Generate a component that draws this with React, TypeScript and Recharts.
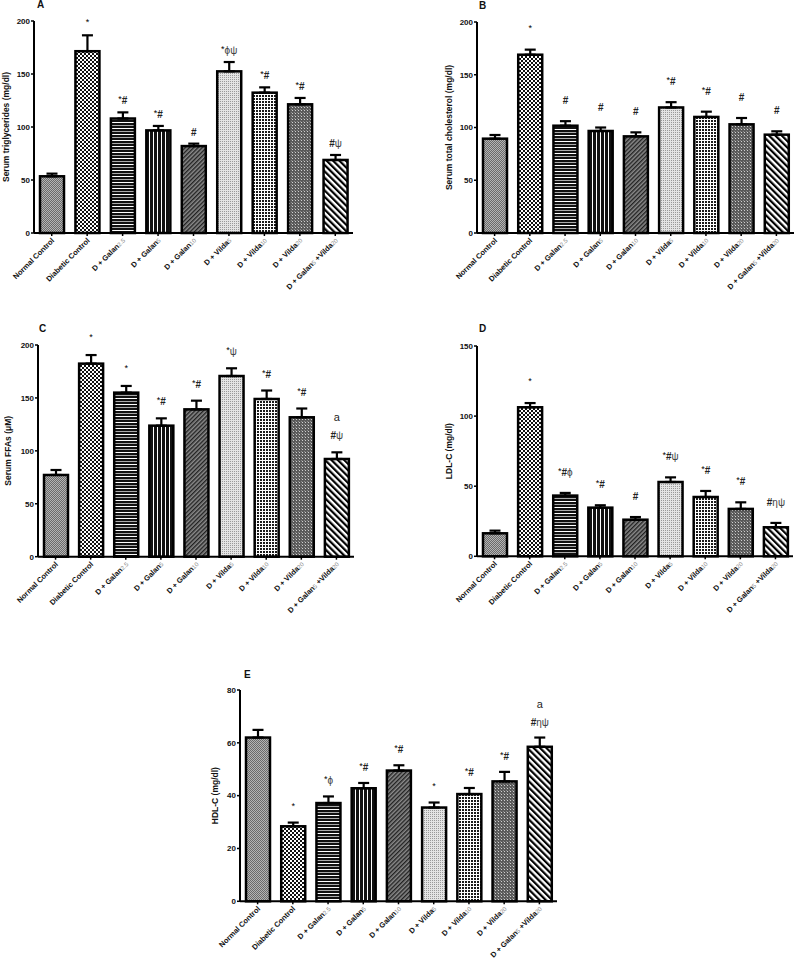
import React from 'react';
import { BarChart, Bar, XAxis, YAxis, ErrorBar, Cell } from 'recharts';

const FONT = '"Liberation Sans", Arial, Helvetica, sans-serif';

// Category tick labels (_{..} marks a subscript)
const categoryLabels = [
  'Normal Control',
  'Diabetic Control',
  'D + Galan_{2.5}',
  'D + Galan_{5}',
  'D + Galan_{10}',
  'D + Vilda_{5}',
  'D + Vilda_{10}',
  'D + Vilda_{20}',
  'D + Galan_{5} +Vilda_{20}',
];

// A: Serum triglycerides (mg/dl)
const trigMean = [53.5, 171.5, 108, 96.8, 82, 152.5, 132.4, 121.4, 68.9];
const trigSem = [2.5, 15, 5.8, 4.2, 2.3, 8.8, 5, 6, 4.7];
const trigSig = ['', '*', '*#', '*#', '#', '*ϕψ', '*#', '*#', '#ψ'];

// B: Serum total cholesterol (mg/dl)
const cholMean = [89.4, 169, 101.7, 96.7, 91.6, 119, 110, 103, 93.2];
const cholSem = [3.5, 4.8, 4.3, 3.3, 3.8, 5, 5, 6, 3.2];
const cholSig = ['', '*', '#', '#', '#', '*#', '*#', '#', '#'];

// C: Serum FFAs (µM)
const ffaMean = [77.2, 182.4, 155, 123.8, 139.2, 170.7, 149, 131.7, 92.3];
const ffaSem = [4.7, 8.1, 6.3, 6.9, 8.2, 7.3, 8, 8.3, 6.3];
const ffaSig = ['', '*', '*', '*#', '*#', '*ψ', '*#', '*#', 'a\n#ψ'];

// D: LDL-C (mg/dl)
const ldlMean = [16.4, 106.3, 43.3, 34.7, 26.1, 53, 42.3, 33.8, 20.7];
const ldlSem = [1.9, 3, 1.9, 1.7, 1.9, 3.3, 4.3, 4.7, 3.1];
const ldlSig = ['', '*', '*#ϕ', '*#', '#', '*#ψ', '*#', '*#', '#ηψ'];

// E: HDL-C (mg/dl)
const hdlMean = [62, 28.4, 37.2, 42.8, 49.5, 35.5, 40.6, 45.4, 58.5];
const hdlSem = [2.9, 1.4, 2.5, 2, 2, 1.9, 2.3, 3.6, 3.5];
const hdlSig = ['', '*', '*ϕ', '*#', '*#', '*', '*#', '*#', 'a\n#ηψ'];

const ticks200 = [0, 50, 100, 150, 200];
const ticks150 = [0, 50, 100, 150];
const ticks80 = [0, 20, 40, 60, 80];

function parseLabel(s: string) {
  const parts: { t: string; sub: boolean }[] = [];
  const re = /_\{([^}]*)\}/g;
  let last = 0;
  let m;
  while ((m = re.exec(s)) !== null) {
    if (m.index > last) parts.push({ t: s.slice(last, m.index), sub: false });
    parts.push({ t: m[1], sub: true });
    last = m.index + m[0].length;
  }
  if (last < s.length) parts.push({ t: s.slice(last), sub: false });
  return parts;
}

const CatTick = (props: any) => {
  const { x, y, payload } = props;
  const parts = parseLabel(String(payload.value));
  const ax = x + 3;
  const ay = y + 4;
  return (
    <text
      x={ax}
      y={ay}
      transform={`rotate(-45 ${ax} ${ay})`}
      textAnchor="end"
      fontFamily={FONT}
      fontSize={7.5}
      fontWeight="bold"
      fill="#111"
    >
      {parts.map((p, i) =>
        p.sub ? (
          <tspan key={i} fontSize={6} fontWeight="normal" fill="#8a8a8a">
            {p.t}
          </tspan>
        ) : (
          <tspan key={i}>{p.t}</tspan>
        )
      )}
    </text>
  );
};

function renderSig(line: string) {
  const out: any[] = [];
  let shifted = false;
  Array.from(line).forEach((ch, i) => {
    if (ch === '*') {
      out.push(
        <tspan key={i} fontSize={9} dy={shifted ? 0 : -2} fill="#000">
          *
        </tspan>
      );
      shifted = true;
    } else {
      const greek = /[ϕψη]/.test(ch);
      out.push(
        <tspan
          key={i}
          dy={shifted ? 2 : 0}
          fontSize={greek ? 10 : ch === 'a' ? 11 : 10}
          fontWeight={ch === '#' ? 'bold' : 'normal'}
          fill={greek ? '#444' : '#222'}
        >
          {ch}
        </tspan>
      );
      shifted = false;
    }
  });
  return out;
}

const makeShape = (gap: number) => (props: any) => {
  const { x, y, width, height, fill, payload } = props;
  const ppu = payload.mean ? height / payload.mean : 0;
  const errTop = y - payload.sem * ppu;
  const cx = x + width / 2;
  const lines = payload.sig ? String(payload.sig).split('\n') : [];
  return (
    <g>
      <rect x={x} y={y} width={width} height={height} fill={fill} stroke="#000" strokeWidth={2.5} />
      {lines.map((ln: string, li: number) => (
        <text
          key={li}
          x={cx}
          y={errTop - gap - (lines.length - 1 - li) * 18}
          textAnchor="middle"
          fontFamily={FONT}
        >
          {renderSig(ln)}
        </text>
      ))}
    </g>
  );
};

const YLabel = (offset: number, value: string) => (props: any) => {
  const vb = props.viewBox || {};
  const cx = vb.x + offset;
  const cy = vb.y + vb.height / 2;
  return (
    <text
      x={cx}
      y={cy}
      transform={`rotate(-90 ${cx} ${cy})`}
      textAnchor="middle"
      dominantBaseline="central"
      fontFamily={FONT}
      fontSize={8.5}
      fontWeight="bold"
      fill="#111"
    >
      {value}
    </text>
  );
};

type PanelProps = {
  letter: string;
  yLabel: string;
  mean: number[];
  sem: number[];
  sig: string[];
  max: number;
  ticks: number[];
  axisX: number;
  plotTop: number;
  plotBottom: number;
  plotRight: number;
  labelX: number;
  gap: number;
  letterX: number;
  letterY: number;
};

const Y_AXIS_W = 34;
const TOP_M = 20;
const X_AXIS_H = 80;

function Panel(p: PanelProps) {
  const data = categoryLabels.map((c, i) => ({
    name: c,
    mean: p.mean[i],
    sem: p.sem[i],
    err: [0, p.sem[i]],
    sig: p.sig[i],
  }));
  const left = p.axisX - Y_AXIS_W;
  const top = p.plotTop - TOP_M;
  const width = p.plotRight - left + 2;
  const height = p.plotBottom - top + X_AXIS_H;
  return (
    <>
      <div
        style={{
          position: 'absolute',
          left: p.letterX,
          top: p.letterY,
          fontFamily: FONT,
          fontWeight: 'bold',
          fontSize: 10,
          lineHeight: '10px',
          color: '#111',
        }}
      >
        {p.letter}
      </div>
      <div style={{ position: 'absolute', left, top }}>
        <BarChart
          width={width}
          height={height}
          data={data}
          margin={{ top: TOP_M, right: 2, left: 0, bottom: 0 }}
          barSize={24}
        >
          <XAxis
            dataKey="name"
            interval={0}
            height={X_AXIS_H}
            tickSize={3}
            tickMargin={1}
            axisLine={{ stroke: '#000', strokeWidth: 2 }}
            tickLine={{ stroke: '#000', strokeWidth: 1.5 }}
            tick={<CatTick />}
          />
          <YAxis
            width={Y_AXIS_W}
            domain={[0, p.max]}
            ticks={p.ticks}
            interval={0}
            tickSize={3}
            tickMargin={1}
            axisLine={{ stroke: '#000', strokeWidth: 2 }}
            tickLine={{ stroke: '#000', strokeWidth: 1.5 }}
            tick={{ fontSize: 8, fontWeight: 'bold', fill: '#111', fontFamily: FONT }}
            label={{ content: YLabel(p.labelX - left, p.yLabel) }}
          />
          <Bar dataKey="mean" isAnimationActive={false} shape={makeShape(p.gap)}>
            {data.map((d, i) => (
              <Cell key={i} fill={`url(#pat${i})`} />
            ))}
            <ErrorBar dataKey="err" width={5.5} stroke="#000" strokeWidth={2.2} direction="y" />
          </Bar>
        </BarChart>
      </div>
    </>
  );
}

const Patterns = () => (
  <svg width={0} height={0} style={{ position: 'absolute' }}>
    <defs>
      <pattern id="pat0" patternUnits="userSpaceOnUse" width={2} height={2}>
        <rect width={2} height={2} fill="#b4b4b4" />
        <rect x={0} y={0} width={1} height={1} fill="#6a6a6a" />
        <rect x={1} y={1} width={1} height={1} fill="#6a6a6a" />
      </pattern>
      <pattern id="pat1" patternUnits="userSpaceOnUse" width={4} height={4}>
        <rect width={4} height={4} fill="#fff" />
        <rect x={0} y={0} width={2} height={2} fill="#111" />
        <rect x={2} y={2} width={2} height={2} fill="#111" />
      </pattern>
      <pattern id="pat2" patternUnits="userSpaceOnUse" width={6} height={6}>
        <rect width={6} height={6} fill="#111" />
        <rect x={0} y={1} width={6} height={1} fill="#fff" />
        <rect x={0} y={4} width={6} height={1} fill="#aaa" />
      </pattern>
      <pattern id="pat3" patternUnits="userSpaceOnUse" width={4} height={4}>
        <rect width={4} height={4} fill="#111" />
        <rect x={1} y={0} width={1} height={4} fill="#fff" />
      </pattern>
      <pattern id="pat4" patternUnits="userSpaceOnUse" width={3} height={3} patternTransform="rotate(45)">
        <rect width={3} height={3} fill="#8a8a8a" />
        <rect x={0} y={0} width={1.4} height={3} fill="#222" />
      </pattern>
      <pattern id="pat5" patternUnits="userSpaceOnUse" width={2} height={2}>
        <rect width={2} height={2} fill="#e4e4e4" />
        <rect x={0} y={0} width={1} height={1} fill="#999" />
      </pattern>
      <pattern id="pat6" patternUnits="userSpaceOnUse" width={3} height={3}>
        <rect width={3} height={3} fill="#fff" />
        <rect x={1} y={1} width={2} height={2} fill="#1a1a1a" />
      </pattern>
      <pattern id="pat7" patternUnits="userSpaceOnUse" width={3} height={3}>
        <rect width={3} height={3} fill="#5a5a5a" />
        <rect x={1} y={1} width={1} height={1} fill="#cfcfcf" />
        <rect x={0} y={0} width={1} height={1} fill="#8a8a8a" />
      </pattern>
      <pattern id="pat8" patternUnits="userSpaceOnUse" width={4.5} height={4.5} patternTransform="rotate(-45)">
        <rect width={4.5} height={4.5} fill="#fff" />
        <rect x={0} y={0} width={2.2} height={4.5} fill="#000" />
      </pattern>
    </defs>
  </svg>
);

export default function App() {
  return (
    <div
      style={{
        position: 'absolute',
        left: 0,
        top: 0,
        width: 798,
        height: 959,
        overflow: 'hidden',
        background: '#fff',
      }}
    >
      <Patterns />
      <Panel
        letter="A"
        yLabel="Serum triglycerides (mg/dl)"
        mean={trigMean}
        sem={trigSem}
        sig={trigSig}
        max={200}
        ticks={ticks200}
        axisX={34}
        plotTop={20.7}
        plotBottom={232.7}
        plotRight={353}
        labelX={6}
        gap={8}
        letterX={37}
        letterY={0}
      />
      <Panel
        letter="B"
        yLabel="Serum total cholesterol (mg/dl)"
        mean={cholMean}
        sem={cholSem}
        sig={cholSig}
        max={200}
        ticks={ticks200}
        axisX={477}
        plotTop={21.7}
        plotBottom={232.7}
        plotRight={794}
        labelX={449}
        gap={17}
        letterX={479}
        letterY={1}
      />
      <Panel
        letter="C"
        yLabel="Serum FFAs (μM)"
        mean={ffaMean}
        sem={ffaSem}
        sig={ffaSig}
        max={200}
        ticks={ticks200}
        axisX={38}
        plotTop={345}
        plotBottom={556.7}
        plotRight={354}
        labelX={8}
        gap={13}
        letterX={39}
        letterY={324}
      />
      <Panel
        letter="D"
        yLabel="LDL-C (mg/dl)"
        mean={ldlMean}
        sem={ldlSem}
        sig={ldlSig}
        max={150}
        ticks={ticks150}
        axisX={477}
        plotTop={345.7}
        plotBottom={556}
        plotRight={793}
        labelX={449}
        gap={17}
        letterX={479}
        letterY={324}
      />
      <Panel
        letter="E"
        yLabel="HDL-C (mg/dl)"
        mean={hdlMean}
        sem={hdlSem}
        sig={hdlSig}
        max={80}
        ticks={ticks80}
        axisX={240}
        plotTop={690}
        plotBottom={901.3}
        plotRight={557}
        labelX={215}
        gap={12}
        letterX={244}
        letterY={670}
      />
    </div>
  );
}
